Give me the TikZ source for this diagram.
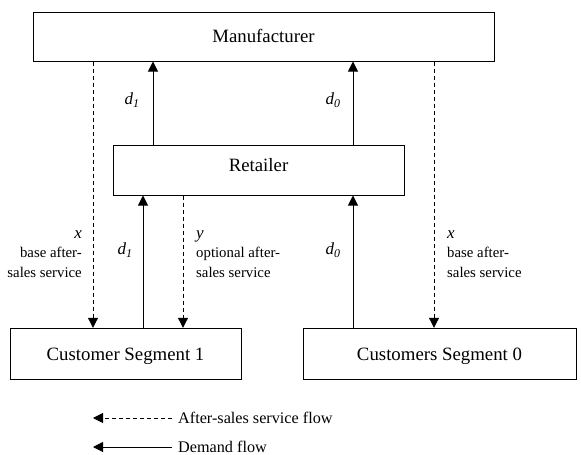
\documentclass[tikz,border=0pt]{standalone}
\usepackage{fontspec}
\setmainfont{Liberation Serif}
\usetikzlibrary{arrows.meta}
\begin{document}
\begin{tikzpicture}[x=1pt,y=-1pt,
 box/.style={draw, line width=1pt, inner sep=0pt, text height=12.4pt, text depth=0pt, font=\fontsize{18.8}{22}\selectfont},
 flow/.style={line width=1pt, -{Triangle[width=10pt,length=10pt]}},
 svc/.style={flow, dash pattern=on 4pt off 3pt},
 lbl/.style={inner sep=0pt, font=\fontsize{14.8}{19.5}\selectfont},
 var/.style={inner sep=0pt, font=\fontsize{17}{20}\selectfont\itshape},
 legtext/.style={inner sep=0pt, inner xsep=6pt, anchor=west, font=\fontsize{16.2}{19}\selectfont}]
\useasboundingbox (0,0) rectangle (581,455);
% boxes
\node[box, minimum width=461pt, minimum height=49pt] (mf) at (263.5,36.5) {Manufacturer};
\node[box, minimum width=291pt, minimum height=50pt, text depth=9pt] (rt) at (258.5,170) {Retailer};
\node[box, minimum width=231pt, minimum height=51pt] (c1) at (125.5,353.8) {Customer Segment 1};
\node[box, minimum width=273pt, minimum height=51pt] (c0) at (439.5,353.8) {Customers Segment 0};
% x positions of connectors
\coordinate (xa) at (93,0);
\coordinate (xb) at (153,0);
\coordinate (xc) at (353,0);
\coordinate (xd) at (434,0);
\coordinate (xe) at (143,0);
\coordinate (xf) at (183,0);
% connectors
\draw[svc] (mf.south -| xa) -- (c1.north -| xa);
\draw[flow] (rt.north -| xb) -- (mf.south -| xb);
\draw[flow] (rt.north -| xc) -- (mf.south -| xc);
\draw[svc] (mf.south -| xd) -- (c0.north -| xd);
\draw[flow] (c1.north -| xe) -- (rt.south -| xe);
\draw[svc] (rt.south -| xf) -- (c1.north -| xf);
\draw[flow] (c0.north -| xc) -- (rt.south -| xc);
% labels
\node[var] (d1a) at (132,100) {d\textsubscript{1}};
\node[var] (d0a) at (333,100) {d\textsubscript{0}};
\node[var] (d1b) at (125,250) {d\textsubscript{1}};
\node[var] (d0b) at (333,250) {d\textsubscript{0}};
\node[lbl, align=right, anchor=north east] (xl) at (82,230) {{\fontsize{17}{19.5}\selectfont\itshape x}\\base after-\\sales service};
\node[lbl, align=left, anchor=north west] (yl) at (196,230) {{\fontsize{17}{19.5}\selectfont\itshape y}\\optional after-\\sales service};
\node[lbl, align=left, anchor=north west] (xr) at (447,230) {{\fontsize{17}{19.5}\selectfont\itshape x}\\base after-\\sales service};
% legend
\coordinate (la) at (93,418);
\coordinate (lb) at (93,447);
\node[legtext] (lt1) at (172,418) {After-sales service flow};
\node[legtext] (lt2) at (172,447) {Demand flow};
\draw[svc] (lt1.west) -- (la);
\draw[flow] (lt2.west) -- (lb);
\end{tikzpicture}
\end{document}
